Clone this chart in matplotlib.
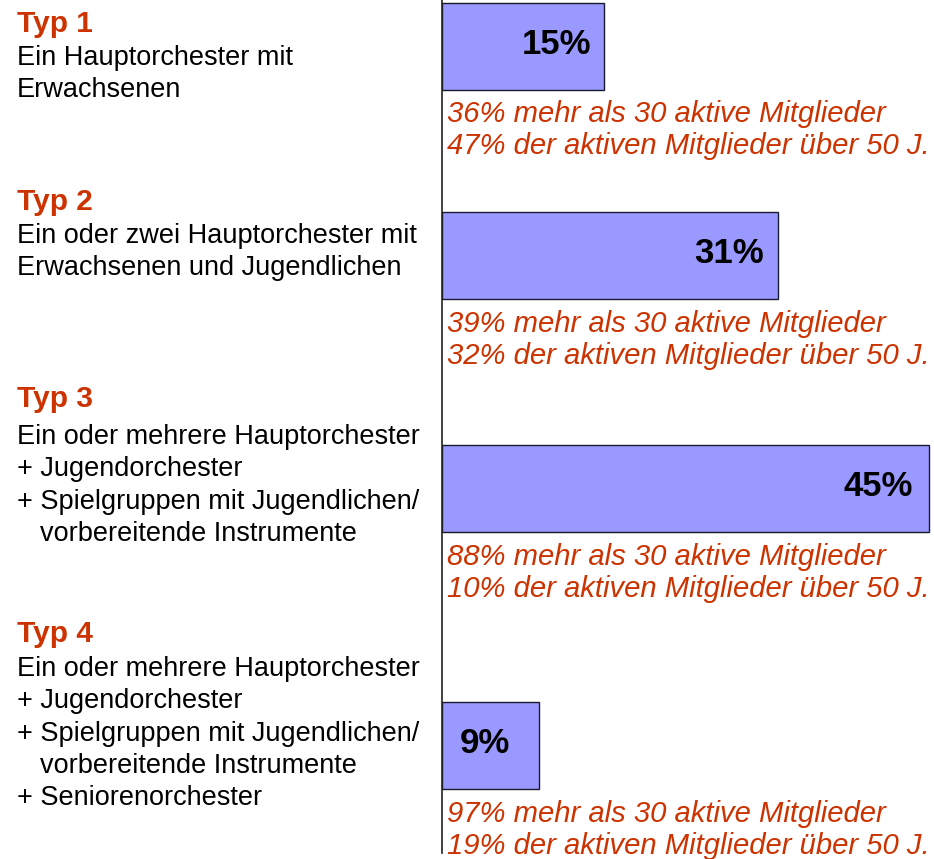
import matplotlib
matplotlib.use("Agg")
import matplotlib.pyplot as plt

# Daten
typen = ["Typ 1", "Typ 2", "Typ 3", "Typ 4"]
anteile = [15, 31, 45, 9]
beschreibung = [
    ["Ein Hauptorchester mit", "Erwachsenen"],
    ["Ein oder zwei Hauptorchester mit", "Erwachsenen und Jugendlichen"],
    ["Ein oder mehrere Hauptorchester", "+ Jugendorchester",
     "+ Spielgruppen mit Jugendlichen/", "  vorbereitende Instrumente"],
    ["Ein oder mehrere Hauptorchester", "+ Jugendorchester",
     "+ Spielgruppen mit Jugendlichen/", "  vorbereitende Instrumente",
     "+ Seniorenorchester"],
]
mehr_als_30 = [36, 39, 88, 97]
ueber_50 = [47, 32, 10, 19]

# Layout (Pixel, von oben gezählt)
W, H = 934, 859
rot = "#CC3300"
balken_mitte = [46, 255.5, 488.5, 745.5]
balken_hoehe = 87
typ_basis = [32, 210, 407, 642]
text_basis = [65, 243, 444, 676]
zeilen_abstand = 32.3
label_abstand = [13, 14, 16, 29]
px_pro_prozent = 10.83

plt.rcParams["font.family"] = ["Liberation Sans", "DejaVu Sans"]

fig = plt.figure(figsize=(W / 100, H / 100), dpi=100)

# Balken
x0 = 442
ax = fig.add_axes([x0 / W, 0, (W - x0) / W, 1])
ax.set_xlim(0, (W - x0) / px_pro_prozent)
ax.set_ylim(H, 0)
ax.barh(balken_mitte, anteile, height=balken_hoehe, color="#9999FF",
        edgecolor="#1a1a2e", linewidth=1, align="center")
for s in ["top", "right", "bottom"]:
    ax.spines[s].set_visible(False)
ax.spines["left"].set_color("#222222")
ax.spines["left"].set_linewidth(1.2)
ax.spines["left"].set_bounds(0, 853)
ax.set_xticks([])
ax.set_yticks([])
ax.patch.set_alpha(0)

for i, v in enumerate(anteile):
    ax.text(v - label_abstand[i] / px_pro_prozent, balken_mitte[i] - 2, f"{v}%",
            ha="right", va="center", fontsize=25, fontweight="bold", color="black")

# Texte
tx = fig.add_axes([0, 0, 1, 1])
tx.set_xlim(0, W)
tx.set_ylim(H, 0)
tx.axis("off")
tx.set_zorder(-1)

for i, typ in enumerate(typen):
    tx.text(17, typ_basis[i], typ, color=rot, fontsize=21.5, fontweight="bold",
            va="baseline", ha="left")
    for j, zeile in enumerate(beschreibung[i]):
        xz = 17
        if zeile.startswith("  "):
            zeile = zeile.strip()
            xz = 40
        tx.text(xz, text_basis[i] + j * zeilen_abstand, zeile, fontsize=19.5,
                va="baseline", ha="left", color="black")

    unten = balken_mitte[i] + balken_hoehe / 2
    tx.text(447, unten + 33, f"{mehr_als_30[i]}% mehr als 30 aktive Mitglieder",
            color=rot, fontsize=21.1, style="italic", va="baseline", ha="left")
    tx.text(447, unten + 65, f"{ueber_50[i]}% der aktiven Mitglieder über 50 J.",
            color=rot, fontsize=21.1, style="italic", va="baseline", ha="left")

fig.savefig("out.png", dpi=100)
